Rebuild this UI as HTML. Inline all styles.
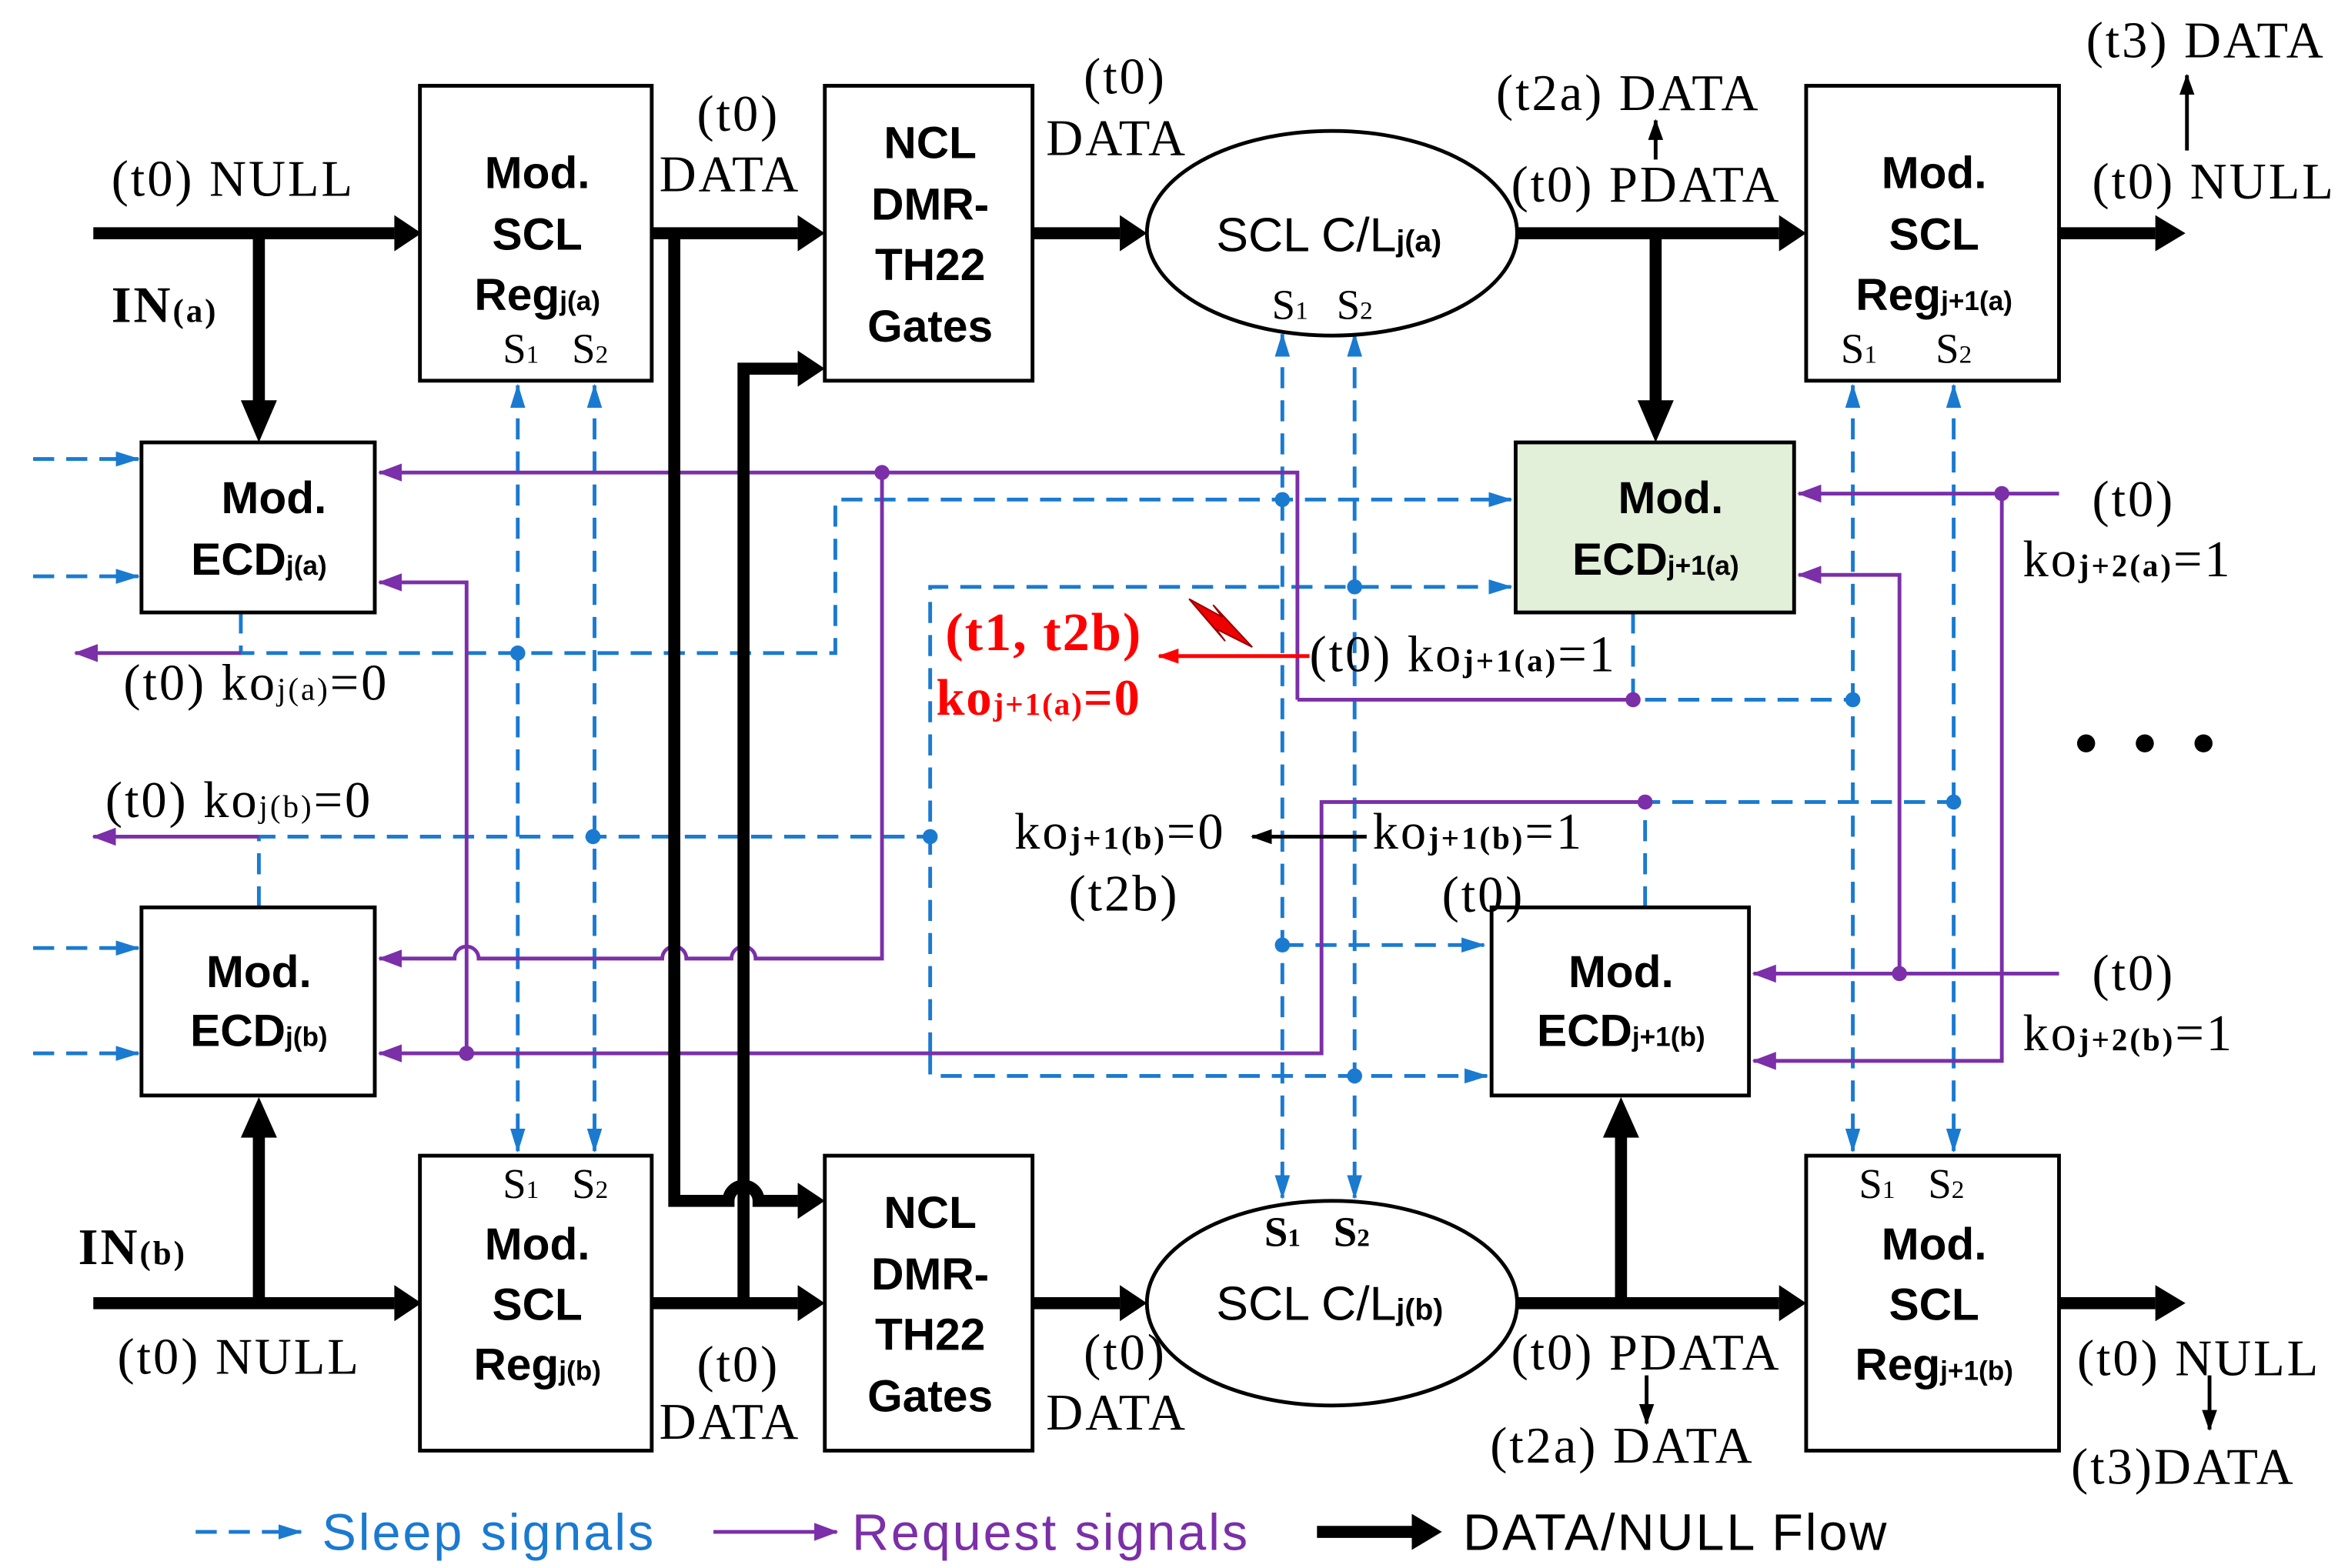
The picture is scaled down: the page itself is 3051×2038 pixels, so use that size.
<!DOCTYPE html>
<html><head><meta charset="utf-8"><style>
html,body{margin:0;padding:0;background:#fff;}
svg{display:block;}
.s{font-family:"Liberation Sans",sans-serif;font-weight:bold;fill:#000;}
.t{font-family:"Liberation Serif",serif;fill:#000;}
</style></head><body>
<svg width="3051" height="2038" viewBox="0 0 1560 1042" preserveAspectRatio="none" xmlns="http://www.w3.org/2000/svg">
<defs>
<marker id="ab" markerWidth="16" markerHeight="10" refX="15" refY="5" orient="auto-start-reverse" markerUnits="userSpaceOnUse"><path d="M0,0 L16,5 L0,10z" fill="#1a7ad0"/></marker>
<marker id="ap" markerWidth="16" markerHeight="12" refX="15" refY="6" orient="auto" markerUnits="userSpaceOnUse"><path d="M0,0 L16,6 L0,12z" fill="#7b2fa8"/></marker>
<marker id="ar" markerWidth="14" markerHeight="10" refX="13" refY="5" orient="auto" markerUnits="userSpaceOnUse"><path d="M0,0 L14,5 L0,10z" fill="#f00"/></marker>
<marker id="abk" markerWidth="14" markerHeight="10" refX="13" refY="5" orient="auto" markerUnits="userSpaceOnUse"><path d="M0,0 L14,5 L0,10z" fill="#000"/></marker>
</defs>
<rect width="1560" height="1042" fill="#fff"/>

<g stroke="#1a7ad0" stroke-width="2.5" stroke-dasharray="14,8" fill="none">
<line x1="344" y1="256" x2="344" y2="765" marker-start="url(#ab)" marker-end="url(#ab)"/>
<line x1="395" y1="256" x2="395" y2="765" marker-start="url(#ab)" marker-end="url(#ab)"/>
<line x1="852" y1="222" x2="852" y2="796" marker-start="url(#ab)" marker-end="url(#ab)"/>
<line x1="900" y1="222" x2="900" y2="796" marker-start="url(#ab)" marker-end="url(#ab)"/>
<line x1="1231" y1="256" x2="1231" y2="765" marker-start="url(#ab)" marker-end="url(#ab)"/>
<line x1="1298" y1="256" x2="1298" y2="765" marker-start="url(#ab)" marker-end="url(#ab)"/>
<polyline points="160,407 160,434 555,434 555,332 1004,332" marker-end="url(#ab)"/>
<polyline points="618,700 618,390 1004,390" marker-end="url(#ab)"/>
<polyline points="618,700 618,715 988,715" marker-end="url(#ab)"/>
<line x1="852" y1="628" x2="986" y2="628" marker-end="url(#ab)"/>
<polyline points="1085,407 1085,465 1231,465"/>
<polyline points="172,603 172,556 618,556"/>
<polyline points="1093,603 1093,533 1298,533"/>
<line x1="22" y1="305" x2="92" y2="305" marker-end="url(#ab)"/>
<line x1="22" y1="383" x2="92" y2="383" marker-end="url(#ab)"/>
<line x1="22" y1="630" x2="92" y2="630" marker-end="url(#ab)"/>
<line x1="22" y1="700" x2="92" y2="700" marker-end="url(#ab)"/>
<line x1="130" y1="1018" x2="200" y2="1018" marker-end="url(#ab)"/>
</g>
<g fill="#1a7ad0">
<circle cx="344" cy="434" r="5"/><circle cx="394" cy="556" r="5"/><circle cx="618" cy="556" r="5"/>
<circle cx="852" cy="332" r="5"/><circle cx="900" cy="390" r="5"/><circle cx="852" cy="628" r="5"/>
<circle cx="900" cy="715" r="5"/><circle cx="1231" cy="465" r="5"/><circle cx="1298" cy="533" r="5"/>
</g>

<g stroke="#7b2fa8" stroke-width="2.5" fill="none">
<polyline points="862,465 862,314 252,314" marker-end="url(#ap)"/>
<line x1="862" y1="465" x2="1085" y2="465"/>
<polyline points="310,700 310,387 252,387" marker-end="url(#ap)"/>
<path d="M586,314 L586,637 L502,637 A8,8 0 0 0 486,637 L456,637 A8,8 0 0 0 440,637 L318,637 A8,8 0 0 0 302,637 L252,637" marker-end="url(#ap)"/>
<polyline points="1093,533 878,533 878,700 252,700" marker-end="url(#ap)"/>
<line x1="1368" y1="328" x2="1195" y2="328" marker-end="url(#ap)"/>
<polyline points="1330,328 1330,705 1165,705" marker-end="url(#ap)"/>
<line x1="1368" y1="647" x2="1165" y2="647" marker-end="url(#ap)"/>
<polyline points="1262,647 1262,382 1195,382" marker-end="url(#ap)"/>
<line x1="172" y1="556" x2="62" y2="556" marker-end="url(#ap)"/>
<line x1="160" y1="434" x2="50" y2="434" marker-end="url(#ap)"/>
<line x1="474" y1="1018" x2="556" y2="1018" marker-end="url(#ap)"/>
</g>
<g fill="#7b2fa8"><circle cx="586" cy="314" r="5"/><circle cx="310" cy="700" r="5"/><circle cx="1085" cy="465" r="5"/><circle cx="1093" cy="533" r="5"/><circle cx="1330" cy="328" r="5"/><circle cx="1262" cy="647" r="5"/></g>

<g stroke="#000" stroke-width="8" fill="none">
<line x1="62" y1="155" x2="262" y2="155"/>
<line x1="172" y1="155" x2="172" y2="278"/>
<line x1="433" y1="155" x2="530" y2="155"/>
<line x1="686" y1="155" x2="744" y2="155"/>
<line x1="1008" y1="155" x2="1182" y2="155"/>
<line x1="1100" y1="155" x2="1100" y2="278"/>
<line x1="1368" y1="155" x2="1432" y2="155"/>
<line x1="62" y1="866" x2="262" y2="866"/>
<line x1="172" y1="866" x2="172" y2="745"/>
<line x1="433" y1="866" x2="530" y2="866"/>
<line x1="686" y1="866" x2="744" y2="866"/>
<line x1="1008" y1="866" x2="1182" y2="866"/>
<line x1="1077" y1="866" x2="1077" y2="745"/>
<line x1="1368" y1="866" x2="1432" y2="866"/>
<path d="M448,155 L448,798 L484,798 A10,10 0 0 1 504,798 L530,798"/>
<polyline points="494,866 494,245 530,245"/>
<line x1="875" y1="1018" x2="940" y2="1018"/>
</g>
<g fill="#000">
<path d="M262,143 L280,155 L262,167z"/><path d="M160,266 L172,294 L184,266z"/>
<path d="M530,143 L548,155 L530,167z"/><path d="M744,143 L762,155 L744,167z"/>
<path d="M1182,143 L1200,155 L1182,167z"/><path d="M1088,266 L1100,294 L1112,266z"/>
<path d="M1432,143 L1452,155 L1432,167z"/>
<path d="M262,854 L280,866 L262,878z"/><path d="M160,756 L172,729 L184,756z"/>
<path d="M530,854 L548,866 L530,878z"/><path d="M744,854 L762,866 L744,878z"/>
<path d="M1182,854 L1200,866 L1182,878z"/><path d="M1065,756 L1077,729 L1089,756z"/>
<path d="M1432,854 L1452,866 L1432,878z"/>
<path d="M530,786 L548,798 L530,810z"/><path d="M530,233 L548,245 L530,257z"/>
<path d="M938,1006 L958,1018 L938,1030z"/>
</g>

<g stroke="#000" stroke-width="2.5" fill="#fff">
<rect x="279" y="57" width="154" height="196"/>
<rect x="548" y="57" width="138" height="196"/>
<rect x="1200" y="57" width="168" height="196"/>
<rect x="94" y="294" width="155" height="113"/>
<rect x="1007" y="294" width="185" height="113" fill="#e2efd9"/>
<rect x="94" y="603" width="155" height="125"/>
<rect x="991" y="603" width="171" height="125"/>
<rect x="279" y="768" width="154" height="196"/>
<rect x="548" y="768" width="138" height="196"/>
<rect x="1200" y="768" width="168" height="196"/>
<ellipse cx="885" cy="155" rx="123" ry="68"/>
<ellipse cx="885" cy="866" rx="123" ry="68"/>
</g>

<g class="s" font-size="30" text-anchor="middle">
<text x="357" y="125">Mod.</text><text x="357" y="166">SCL</text><text x="357" y="206">Reg<tspan font-size="18">j(a)</tspan></text>
<text x="618" y="105">NCL</text><text x="618" y="146">DMR-</text><text x="618" y="186">TH22</text><text x="618" y="227">Gates</text>
<text x="1285" y="125">Mod.</text><text x="1285" y="166">SCL</text><text x="1285" y="206">Reg<tspan font-size="18">j+1(a)</tspan></text>
<text x="182" y="341">Mod.</text><text x="172" y="382">ECD<tspan font-size="18">j(a)</tspan></text>
<text x="1110" y="341">Mod.</text><text x="1100" y="382">ECD<tspan font-size="18">j+1(a)</tspan></text>
<text x="172" y="656">Mod.</text><text x="172" y="695">ECD<tspan font-size="18">j(b)</tspan></text>
<text x="1077" y="656">Mod.</text><text x="1077" y="695">ECD<tspan font-size="18">j+1(b)</tspan></text>
<text x="357" y="837">Mod.</text><text x="357" y="877">SCL</text><text x="357" y="917">Reg<tspan font-size="18">j(b)</tspan></text>
<text x="618" y="816">NCL</text><text x="618" y="857">DMR-</text><text x="618" y="897">TH22</text><text x="618" y="938">Gates</text>
<text x="1285" y="837">Mod.</text><text x="1285" y="877">SCL</text><text x="1285" y="917">Reg<tspan font-size="18">j+1(b)</tspan></text>
</g>
<g font-family="Liberation Sans,sans-serif" font-size="32" fill="#000">
<text x="808" y="167">SCL C/L<tspan font-size="20" font-weight="bold">j(a)</tspan></text>
<text x="808" y="877">SCL C/L<tspan font-size="20" font-weight="bold">j(b)</tspan></text>
</g>
<g class="t" font-size="28">
<text x="334" y="241">S<tspan font-size="17">1</tspan></text><text x="380" y="241">S<tspan font-size="17">2</tspan></text>
<text x="845" y="212">S<tspan font-size="17">1</tspan></text><text x="888" y="212">S<tspan font-size="17">2</tspan></text>
<text x="1223" y="241">S<tspan font-size="17">1</tspan></text><text x="1286" y="241">S<tspan font-size="17">2</tspan></text>
<text x="334" y="796">S<tspan font-size="17">1</tspan></text><text x="380" y="796">S<tspan font-size="17">2</tspan></text>
<text x="840" y="828" font-weight="bold">S<tspan font-size="17">1</tspan></text><text x="886" y="828" font-weight="bold">S<tspan font-size="17">2</tspan></text>
<text x="1235" y="796">S<tspan font-size="17">1</tspan></text><text x="1281" y="796">S<tspan font-size="17">2</tspan></text>
</g>

<g class="t" font-size="34" letter-spacing="1.5">
<text x="74" y="130">(t0) NULL</text>
<text x="74" y="214" font-weight="bold">IN<tspan font-size="22">(a)</tspan></text>
<text x="463" y="87">(t0)</text><text x="438" y="127">DATA</text>
<text x="720" y="62">(t0)</text><text x="695" y="103">DATA</text>
<text x="994" y="73">(t2a) DATA</text>
<text x="1004" y="134">(t0) PDATA</text>
<text x="1386" y="38">(t3) DATA</text>
<text x="1390" y="132">(t0) NULL</text>
<text x="82" y="465">(t0) ko<tspan font-size="21">j(a)</tspan>=0</text>
<text x="70" y="543">(t0) ko<tspan font-size="21">j(b)</tspan>=0</text>
<text x="870" y="446">(t0) ko<tspan font-size="21" font-weight="bold">j+1(a)</tspan>=1</text>
<text x="1390" y="343">(t0)</text>
<text x="1344" y="383">ko<tspan font-size="21" font-weight="bold">j+2(a)</tspan>=1</text>
<text x="674" y="564">ko<tspan font-size="21" font-weight="bold">j+1(b)</tspan>=0</text>
<text x="912" y="564">ko<tspan font-size="21" font-weight="bold">j+1(b)</tspan>=1</text>
<text x="710" y="605">(t2b)</text>
<text x="958" y="606">(t0)</text>
<text x="1390" y="658">(t0)</text>
<text x="1344" y="698">ko<tspan font-size="21" font-weight="bold">j+2(b)</tspan>=1</text>
<text x="52" y="840" font-weight="bold">IN<tspan font-size="22">(b)</tspan></text>
<text x="78" y="913">(t0) NULL</text>
<text x="463" y="918">(t0)</text><text x="438" y="956">DATA</text>
<text x="720" y="910">(t0)</text><text x="695" y="950">DATA</text>
<text x="1004" y="910">(t0) PDATA</text>
<text x="990" y="972">(t2a) DATA</text>
<text x="1380" y="914">(t0) NULL</text>
<text x="1376" y="986">(t3)DATA</text>
</g>
<g fill="#f00" font-family="Liberation Serif,serif" font-weight="bold" letter-spacing="1">
<text x="628" y="432" font-size="36">(t1, t2b)</text>
<text x="622" y="475" font-size="34">ko<tspan font-size="21">j+1(a)</tspan>=0</text>
</g>
<line x1="870" y1="436" x2="770" y2="436" stroke="#f00" stroke-width="2.5" marker-end="url(#ar)"/>
<path d="M790,398 L812,410 L806,402 L832,430 L808,418 L814,426z" fill="#e00" stroke="#900" stroke-width="1"/>
<line x1="908" y1="556" x2="832" y2="556" stroke="#000" stroke-width="2.5" marker-end="url(#abk)"/>
<g stroke="#000" stroke-width="2.5">
<line x1="1100" y1="106" x2="1100" y2="80" marker-end="url(#abk)"/>
<line x1="1453" y1="100" x2="1453" y2="50" marker-end="url(#abk)"/>
<line x1="1094" y1="914" x2="1094" y2="946" marker-end="url(#abk)"/>
<line x1="1468" y1="914" x2="1468" y2="950" marker-end="url(#abk)"/>
</g>
<g fill="#000"><circle cx="1386" cy="494" r="6"/><circle cx="1425" cy="494" r="6"/><circle cx="1464" cy="494" r="6"/></g>

<g font-family="Liberation Sans,sans-serif" font-size="34" letter-spacing="1.5">
<text x="214" y="1030" fill="#1a7ad0">Sleep signals</text>
<text x="566" y="1030" fill="#7b2fa8">Request signals</text>
<text x="972" y="1030" fill="#000">DATA/NULL Flow</text>
</g>
</svg>
</body></html>
